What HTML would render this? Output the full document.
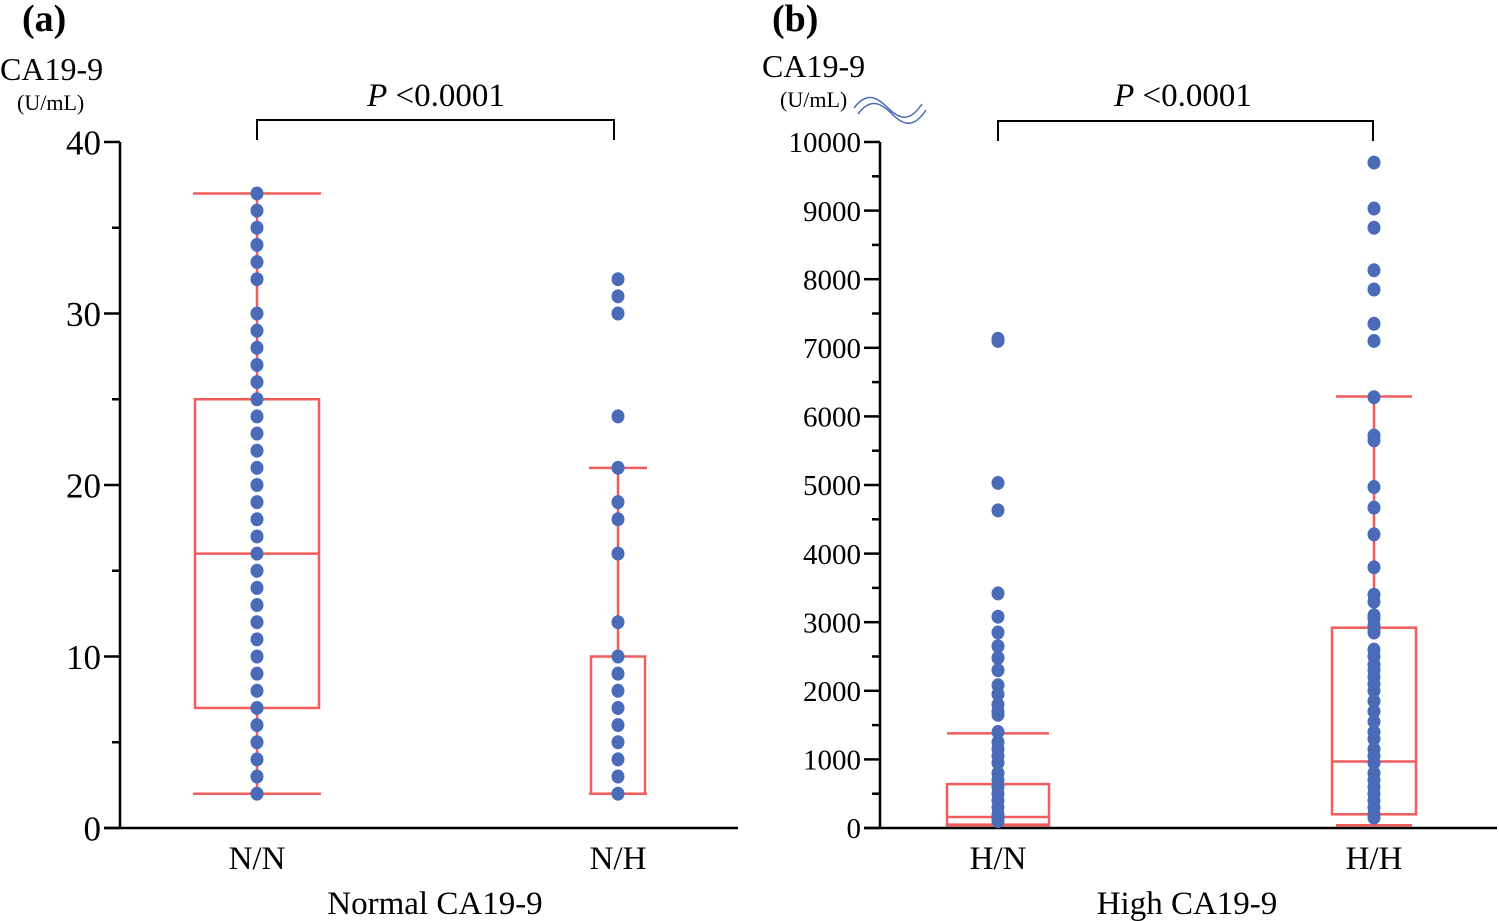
<!DOCTYPE html>
<html><head><meta charset="utf-8"><style>
body{margin:0;background:#fff}
svg{display:block}
text{font-family:"Liberation Serif",serif;fill:#000}
</style></head><body>
<svg id="chart" width="1499" height="921" viewBox="0 0 1499 921">
<text x="22" y="31" font-size="38" font-weight="bold">(a)</text>
<text x="772" y="31" font-size="38" font-weight="bold">(b)</text>
<text x="0" y="80" font-size="32">CA19-9</text>
<text x="17" y="110" font-size="22">(U/mL)</text>
<text x="762" y="77" font-size="32">CA19-9</text>
<text x="780" y="107" font-size="22">(U/mL)</text>
<g fill="none" stroke="#4a6bb8" stroke-width="1.5">
<path d="M854,108 C866,92 876,96 888,108 C900,120 910,122 922,104"/>
<path d="M858,114 C870,98 880,102 892,114 C904,126 914,128 926,110"/>
</g>
<text x="436" y="106" font-size="33" text-anchor="middle"><tspan font-style="italic">P</tspan> &lt;0.0001</text>
<path d="M257,140 V120 H614 V140" fill="none" stroke="#000" stroke-width="2"/>
<text x="1183" y="106" font-size="33" text-anchor="middle"><tspan font-style="italic">P</tspan> &lt;0.0001</text>
<path d="M998,141 V121 H1373 V141" fill="none" stroke="#000" stroke-width="2"/>
<text x="435" y="914" font-size="33" text-anchor="middle">Normal CA19-9</text>
<text x="1187" y="914" font-size="33" text-anchor="middle">High CA19-9</text>
<g id="pa"></g><g id="pb"></g>
</svg>
<script>
// Panel A data
const catsA = ["N/N", "N/H"];
const ptsNN = [2,3,4,5,6,7,8,9,10,11,12,13,14,15,16,17,18,19,20,21,22,23,24,25,26,27,28,29,30,32,33,34,35,36,37];
const ptsNH = [2,3,4,5,6,7,8,9,10,12,16,18,19,21,24,30,31,32];
const boxNN = [2,7,16,25,37]; // min,q1,med,q3,max
const boxNH = [2,2,2,10,21];
const ticksA = [0,10,20,30,40];
// Panel B data
const catsB = ["H/N", "H/H"];
const ptsHN = [7100,7130,5030,4630,3420,3080,2850,2650,2480,2300,2080,1950,1800,1700,1650,1400,1250,1150,1050,950,800,700,600,500,400,300,200,150,100];
const ptsHH = [9700,9030,8750,8130,7850,7350,7100,6280,5720,5650,4970,4670,4280,3800,3400,3300,3100,3050,2950,2900,2850,2600,2500,2380,2300,2200,2100,2000,1850,1700,1550,1400,1300,1150,1050,950,800,700,600,500,400,300,200,150];
const boxHN = [50,40,160,640,1380];
const boxHH = [40,200,970,2920,6290];
const ticksB = [0,1000,2000,3000,4000,5000,6000,7000,8000,9000,10000];

const NS="http://www.w3.org/2000/svg";
function mk(parent,tag,attrs){const e=document.createElementNS(NS,tag);for(const k in attrs)e.setAttribute(k,attrs[k]);parent.appendChild(e);return e;}
const RED="#f25c5c", BLUE="#4a6bb8";

function panel(g, o){
  const y=v=>o.y0-(v/o.max)*(o.y0-o.y1);
  let ax=mk(g,'line',{x1:o.ax,y1:o.y1,x2:o.ax,y2:o.y0+1,stroke:'#000','stroke-width':2.5});
  
  
  let xa=mk(g,'line',{x1:o.ax-16,y1:o.y0,x2:o.xend,y2:o.y0,stroke:'#000','stroke-width':2.5});
  
  
  o.ticks.forEach(t=>{
    let l=mk(g,'line',{x1:o.ax-16,y1:y(t),x2:o.ax,y2:y(t),stroke:'#000','stroke-width':2.5});
    
    
    let tx=mk(g,'text',{x:o.ax-19,y:y(t)+o.fs*0.35,'font-size':o.fs,'text-anchor':'end'});
    tx.textContent=t;
    
    
  });
  for(let i=0;i<o.ticks.length-1;i++){
    const m=(o.ticks[i]+o.ticks[i+1])/2;
    let l=mk(g,'line',{x1:o.ax-8,y1:y(m),x2:o.ax,y2:y(m),stroke:'#000','stroke-width':2.5});
    
    
  }
  o.groups.forEach((gr,i)=>{
    const cx=gr.x, b=gr.box, hw=gr.hw, cw=gr.cw;
    let tx=mk(g,'text',{x:cx,y:o.y0+41,'font-size':33,'text-anchor':'middle'});
    tx.textContent=gr.cat;
    
    
    const bg=mk(g,'g',{stroke:RED,'stroke-width':2.5,fill:'none'});
    
    
    mk(bg,'line',{x1:cx,y1:y(b[4]),x2:cx,y2:y(b[3])});
    mk(bg,'line',{x1:cx,y1:y(b[1]),x2:cx,y2:y(b[0])});
    mk(bg,'line',{x1:cx-cw,y1:y(b[4]),x2:cx+cw,y2:y(b[4])});
    mk(bg,'line',{x1:cx-cw,y1:y(b[0]),x2:cx+cw,y2:y(b[0])});
    mk(bg,'rect',{x:cx-hw,y:y(b[3]),width:2*hw,height:y(b[1])-y(b[3])});
    mk(bg,'line',{x1:cx-hw,y1:y(b[2]),x2:cx+hw,y2:y(b[2])});
    gr.pts.forEach(v=>{
      let d=mk(g,'ellipse',{cx:cx,cy:y(v),rx:6.5,ry:7,fill:BLUE});
      
      
    });
  });
}
panel(document.getElementById('pa'),{id:'panel-a',ax:120,xend:738,y0:828,y1:142,max:40,ticks:ticksA,fs:35,
  groups:[{cat:catsA[0],x:257,pts:ptsNN,box:boxNN,hw:62,cw:64},{cat:catsA[1],x:618,pts:ptsNH,box:boxNH,hw:27,cw:29}]});
panel(document.getElementById('pb'),{id:'panel-b',ax:880,xend:1497,y0:828,y1:142,max:10000,ticks:ticksB,fs:29,
  groups:[{cat:catsB[0],x:998,pts:ptsHN,box:boxHN,hw:51,cw:51},{cat:catsB[1],x:1374,pts:ptsHH,box:boxHH,hw:42,cw:38}]});
</script>
</body></html>
